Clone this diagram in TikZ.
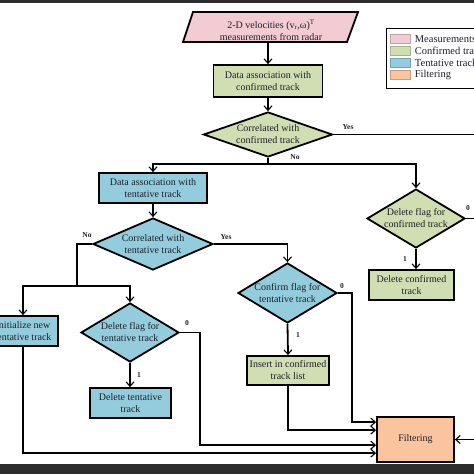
\documentclass[tikz,border=0pt]{standalone}
\usepackage{fontspec}
\setmainfont{Liberation Serif}
\usetikzlibrary{arrows.meta,shapes.geometric,calc}
\definecolor{pinkf}{RGB}{242,204,210}
\definecolor{greenf}{RGB}{209,222,178}
\definecolor{bluef}{RGB}{147,205,221}
\definecolor{orangef}{RGB}{250,196,158}
\definecolor{txt}{RGB}{30,30,40}
\definecolor{band}{RGB}{45,45,45}
\begin{document}
\begin{tikzpicture}[x=1pt,y=-1pt,
  line width=1.8pt,
  arr/.style={-{Straight Barb[length=4.5pt,width=8pt,line width=1.1pt]}},
  box/.style={draw=black, line width=1.8pt, inner sep=0pt, align=center, font=\fontsize{10}{12}\selectfont, text=txt},
  dia/.style={draw=black, shape=diamond, inner sep=0pt, line width=1.8pt},
  dtext/.style={align=center, font=\fontsize{10}{12}\selectfont, text=txt, inner sep=0pt},
  lab/.style={font=\fontsize{7.5}{8}\selectfont\bfseries, text=txt, inner sep=0pt},
  legtext/.style={font=\fontsize{10.5}{12}\selectfont, text=txt, inner sep=0pt, anchor=west},
  legsw/.style={minimum width=20pt, minimum height=9pt, inner sep=0pt, line width=0.4pt},
]
\useasboundingbox (0,0) rectangle (474,474);
\fill[white] (0,0) rectangle (474,474);
\clip (0,0) rectangle (474,474);

% measurement parallelogram
\draw[fill=pinkf] (193,12) -- (358,12) -- (347,42) -- (183,42) -- cycle;
\node[dtext, minimum width=150pt, minimum height=24pt] (meas) at (271,30) {2-D velocities (v\textsubscript{r},ω)\textsuperscript{T}\\measurements from radar};

% boxes
\node[box, fill=greenf, minimum width=109pt, minimum height=32pt] (box1) at (268,81) {Data association with\\confirmed track};
\node[dia, fill=greenf, minimum width=129pt, minimum height=45pt] (d1) at (268,134.5) {};
\node[dtext] (d1t) at (d1) {Correlated with\\confirmed track};

\node[box, fill=bluef, minimum width=108pt, minimum height=30pt] (box2) at (153,188) {Data association with\\tentative track};
\node[dia, fill=bluef, minimum width=120pt, minimum height=52pt] (d3) at (153,244) {};
\node[dtext] (d3t) at (d3) {Correlated with\\tentative track};

\node[dia, fill=greenf, minimum width=98pt, minimum height=59pt] (d2) at (416,218.5) {};
\node[dtext] (d2t) at (d2) {Delete flag for\\confirmed track};
\node[box, fill=greenf, minimum width=85pt, minimum height=30pt] (delconf) at (411.5,285) {Delete confirmed\\track};

\node[box, fill=bluef, minimum width=70pt, minimum height=30pt] (init) at (23,331) {Initialize new\\tentative track};
\node[dia, fill=bluef, minimum width=98pt, minimum height=59pt] (d4) at (130,332.5) {};
\node[dtext] (d4t) at (d4) {Delete flag for\\tentative track};
\node[box, fill=bluef, minimum width=81pt, minimum height=30pt] (deltent) at (130.5,403) {Delete tentative\\track};

\node[dia, fill=bluef, minimum width=99pt, minimum height=60pt] (d5) at (287.5,293) {};
\node[dtext] (d5t) at (d5) {Confirm flag for\\tentative track};
\node[box, fill=greenf, minimum width=82pt, minimum height=29pt] (ins) at (288,370.5) {Insert in confirmed\\track list};

\node[box, fill=orangef, minimum width=77pt, minimum height=45pt] (filt) at (415.5,439.5) {Filtering};

% coordinates
\coordinate (yesR) at (480,134.5);
\coordinate (zR) at (480,218.5);
\coordinate (fR) at (480,439.5);
\coordinate (j1) at (268,164);
\coordinate (j2) at (77,286);
\coordinate (f1) at ($(filt.north west)+(0,6)$);
\coordinate (f2) at ($(filt.north west)+(0,14)$);
\coordinate (f3) at ($(filt.north west)+(0,29)$);
\coordinate (f4) at ($(filt.north west)+(0,37)$);

% connectors
\draw[arr] (meas.south -| box1.north) -- (box1.north);
\draw[arr] (box1.south) -- (d1.north);
\draw (d1.east) -- (yesR);
\node[lab] (lyes1) at (348,127) {Yes};
\draw (d1.south) -- (j1);
\draw[arr] (j1) -| (box2.north);
\draw[arr] (j1) -| (d2.north);
\node[lab] (lno1) at (295,157) {No};

\draw[arr] (box2.south) -- (d3.north);
\draw (d3.west) -| (j2);
\draw[arr] (j2) -| (init.north);
\draw[arr] (j2) -| (d4.north);
\node[lab] (lno2) at (87,235) {No};
\draw[arr] (d3.east) -| (d5.north);
\node[lab] (lyes2) at (226,237) {Yes};

\draw[arr] (d5.south) -- (ins.north);
\node[lab] (l51) at (298,335) {1};
\draw[arr] (d5.east) -- ++(14,0) |- (f1);
\node[lab] (l50) at (342,286) {0};
\draw[arr] (ins.south) |- (f2);

\draw[arr] (d4.south) -- (d4.south |- deltent.north);
\node[lab] (l41) at (139,375) {1};
\draw[arr] (d4.east) -- ++(20,0) |- (f3);
\node[lab] (l40) at (187,323) {0};
\draw[arr] (init.south) |- (f4);

\draw[arr] (d2.south) -- (d2.south |- delconf.north);
\node[lab] (l21) at (405,259) {1};
\draw (d2.east) -- (zR);
\node[lab] (l20) at (468,208) {0};
\draw[arr] (fR) -- (filt.east);

% legend
\draw[line width=1pt, fill=white] (386,28) rectangle (520,88);
\node[legsw, fill=pinkf, draw=pinkf!80!black] (s1) at (400,39) {};
\node[legsw, fill=greenf, draw=greenf!80!black] (s2) at (400,51) {};
\node[legsw, fill=bluef, draw=bluef!80!black] (s3) at (400,63) {};
\node[legsw, fill=orangef, draw=orangef!80!black] (s4) at (400,75) {};
\node[legtext] (t1) at (414,39) {Measurements};
\node[legtext] (t2) at (414,51) {Confirmed track};
\node[legtext] (t3) at (414,63) {Tentative track};
\node[legtext] (t4) at (414,75) {Filtering};

% dark bands
\fill[band] (0,0) rectangle (474,2.5);
\fill[band] (0,464) rectangle (474,474);
\end{tikzpicture}
\end{document}
